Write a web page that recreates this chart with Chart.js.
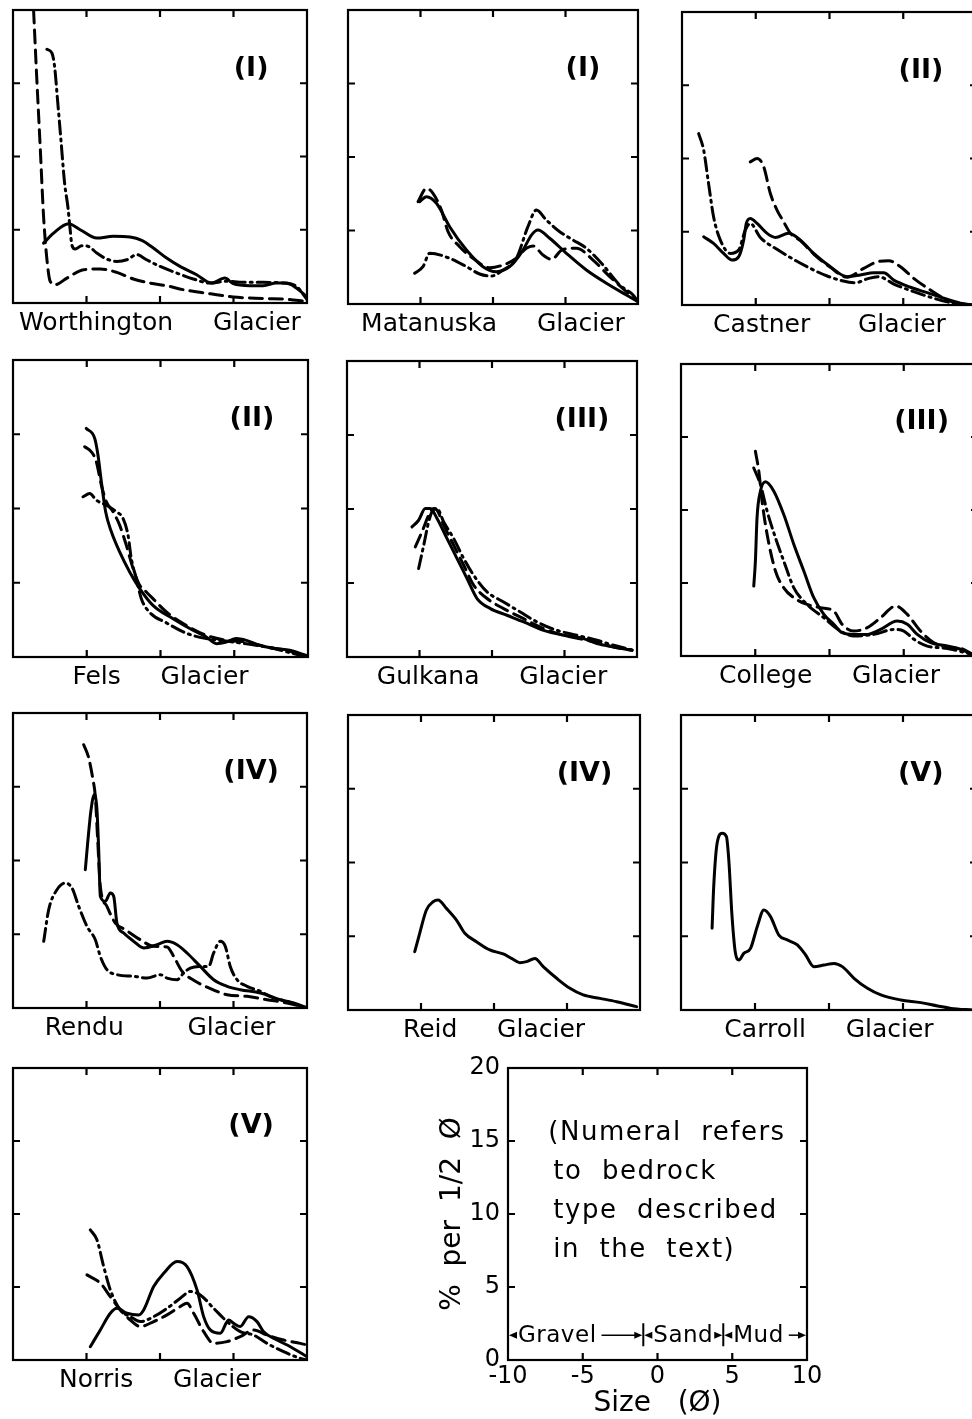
<!DOCTYPE html>
<html>
<head>
<meta charset="utf-8">
<script src="https://cdn.jsdelivr.net/npm/chart.js@4.4.1/dist/chart.umd.min.js"></script>
<style>
  html, body { margin: 0; padding: 0; background: #fff; overflow: hidden; }
  #figura { position: relative; width: 972px; height: 1419px; overflow: hidden; background: #fff; }
  .panel { position: absolute; }
</style>
</head>
<body>
<div id="figura"></div>
<script>
// Curvas: pares [tamano (phi), % por 1/2 phi]
const worthingtonSolid = [[-7.92,4.09],[-7.24,4.77],[-6.22,5.41],[-5.43,5.0],[-4.3,4.43],[-3.17,4.55],[-2.04,4.5],[-1.24,4.27],[-0.45,3.75],[0.45,3.07],[1.36,2.5],[2.49,1.93],[3.51,1.36],[4.41,1.7],[4.98,1.32],[6.11,1.18],[7.01,1.18],[7.92,1.36],[8.6,1.36],[9.28,1.02],[10,0.41]];
const worthingtonDashed = [[-8.6,20],[-8.42,16.1],[-8.14,10.45],[-7.92,5.9],[-7.69,2.95],[-7.47,1.48],[-7.13,1.25],[-6.33,1.7],[-5.2,2.27],[-4.07,2.32],[-2.94,2.09],[-1.81,1.64],[-0.68,1.36],[0.45,1.18],[1.58,0.91],[2.71,0.73],[3.85,0.57],[4.98,0.41],[6.11,0.34],[7.24,0.3],[8.37,0.27],[10,0.11]];
const worthingtonDashDot = [[-7.69,17.32],[-7.35,17.05],[-7.17,16.14],[-6.97,13.86],[-6.74,11.14],[-6.49,8.18],[-6.27,6.59],[-6.11,5.0],[-6.0,3.98],[-5.77,3.68],[-5.32,3.91],[-4.86,3.86],[-4.3,3.41],[-3.62,3.0],[-2.94,2.84],[-2.26,2.95],[-1.58,3.3],[-0.91,2.95],[0,2.5],[1.13,2.05],[2.26,1.64],[3.39,1.36],[4.52,1.48],[5.66,1.41],[7.01,1.41],[8.37,1.36],[9.28,1.14],[10,0.23]];

const matanuskaSolid = [[-5.06,6.96],[-4.59,7.3],[-3.9,6.85],[-2.99,5.26],[-1.83,3.67],[-0.69,2.54],[0.23,2.2],[1.15,2.54],[2.07,3.67],[2.65,4.69],[3.1,5.03],[3.91,4.47],[5.06,3.45],[6.44,2.31],[7.82,1.41],[9.2,0.61],[10,0.16]];
const matanuskaDashed = [[-5.17,6.96],[-4.59,7.87],[-4.14,7.53],[-3.56,6.39],[-3.1,4.92],[-2.3,3.9],[-1.38,3.11],[-0.23,2.47],[0.69,2.65],[1.61,3.11],[2.3,3.79],[2.76,3.95],[3.45,3.33],[4.03,3.04],[4.83,3.72],[5.75,3.79],[6.9,2.99],[8.05,1.86],[9.2,0.84],[10,0.16]];
const matanuskaDashDot = [[-5.4,2.09],[-4.83,2.54],[-4.37,3.45],[-2.99,3.11],[-1.83,2.54],[-0.92,2.04],[-0.11,1.9],[0.69,2.31],[1.61,3.11],[2.41,5.26],[2.99,6.39],[3.68,5.71],[4.6,4.92],[5.52,4.35],[6.44,3.79],[7.59,2.65],[8.74,1.29],[9.66,0.61],[10,0.16]];

const castnerSolid = [[-8.53,4.66],[-7.86,4.2],[-7.18,3.52],[-6.61,3.07],[-6.16,3.29],[-5.82,4.43],[-5.64,5.57],[-5.37,5.91],[-4.91,5.57],[-4.23,4.89],[-3.67,4.61],[-2.77,4.89],[-1.97,4.43],[-1.07,3.52],[0.06,2.61],[1.19,1.93],[2.1,2.05],[3.0,2.2],[3.68,2.2],[4.36,1.7],[5.49,1.21],[6.62,0.84],[7.75,0.46],[8.88,0.12],[9.7,0]];
const castnerDashed = [[-5.37,9.77],[-4.91,10.0],[-4.46,9.43],[-4.01,7.61],[-3.56,6.48],[-3.11,5.68],[-2.65,4.89],[-1.97,4.39],[-1.07,3.48],[0.06,2.57],[1.19,1.89],[2.32,2.5],[3.23,2.95],[4.02,3.02],[4.81,2.61],[5.71,1.82],[6.84,1.02],[7.97,0.34],[8.88,0.07]];
const castnerDashDot = [[-8.87,11.7],[-8.53,10.57],[-8.2,8.3],[-7.86,6.02],[-7.4,4.43],[-6.72,3.52],[-6.16,3.75],[-5.71,5.11],[-5.37,5.57],[-4.69,4.61],[-3.56,3.8],[-2.43,3.11],[-1.3,2.5],[-0.16,1.98],[0.85,1.66],[1.76,1.52],[2.66,1.82],[3.34,1.93],[4.36,1.43],[5.71,0.91],[7.07,0.46],[8.43,0.12],[9.7,0]];

const felsSolid = [[-5.03,15.39],[-4.46,14.72],[-4.24,13.6],[-4.01,11.8],[-3.72,9.78],[-3.33,8.43],[-2.77,7.08],[-2.09,5.73],[-1.41,4.61],[-0.51,3.48],[0.85,2.58],[2.2,1.8],[3.11,1.35],[3.79,0.9],[4.46,1.01],[5.14,1.24],[5.82,1.12],[6.72,0.79],[7.85,0.56],[8.76,0.45],[9.89,0.11]];
const felsDashed = [[-5.14,14.16],[-4.69,13.82],[-4.35,13.15],[-4.01,11.57],[-3.67,10.45],[-3.22,9.78],[-2.77,8.88],[-2.32,7.53],[-1.86,5.96],[-1.41,4.83],[-0.96,4.38],[-0.51,3.93],[0.4,3.03],[1.75,2.13],[3.11,1.46],[4.46,1.12],[5.82,1.01],[7.18,0.67],[8.53,0.45],[9.89,0]];
const felsDashDot = [[-5.25,10.79],[-4.8,11.01],[-4.35,10.56],[-3.67,10.22],[-2.99,9.78],[-2.54,9.33],[-2.2,8.2],[-1.98,6.63],[-1.64,5.28],[-1.3,3.93],[-0.73,3.0],[0.4,2.3],[1.75,1.6],[3.11,1.24],[4.92,1.01],[7.18,0.67],[9.89,0]];

const gulkanaSolid = [[-5.52,8.79],[-5.06,9.24],[-4.6,10.03],[-4.25,10.03],[-3.79,9.36],[-3.1,8.0],[-2.41,6.65],[-1.72,5.3],[-1.03,3.95],[-0.11,3.27],[1.03,2.82],[2.18,2.37],[3.56,1.8],[4.94,1.47],[6.32,1.24],[7.24,0.9],[8.39,0.68],[9.66,0.45]];
const gulkanaDashed = [[-5.29,7.44],[-4.83,8.46],[-4.25,9.81],[-4.02,10.03],[-3.79,9.92],[-3.33,8.91],[-2.64,7.55],[-1.95,6.2],[-1.26,4.85],[-0.34,3.95],[0.8,3.27],[2.18,2.59],[3.56,1.92],[4.94,1.47],[6.55,1.13],[8.39,0.68],[9.66,0.45]];
const gulkanaDashDot = [[-5.06,5.98],[-4.71,7.55],[-4.37,9.13],[-4.14,9.81],[-3.79,10.03],[-3.33,9.13],[-2.64,8.0],[-1.95,6.65],[-1.26,5.52],[-0.34,4.4],[0.8,3.72],[1.95,3.04],[3.1,2.37],[4.48,1.8],[5.86,1.47],[7.24,1.13],[8.39,0.79],[9.77,0.45]];

const collegeSolid = [[-5.1,4.79],[-4.99,6.5],[-4.88,9.46],[-4.65,11.29],[-4.31,11.93],[-3.75,11.29],[-3.08,9.69],[-2.4,7.64],[-1.73,5.82],[-1.06,3.99],[-0.38,2.85],[0.29,2.17],[0.85,1.6],[1.64,1.48],[2.54,1.48],[3.44,1.82],[4.56,2.39],[5.24,2.17],[5.91,1.48],[6.81,0.91],[7.93,0.68],[8.83,0.46],[9.62,0.11]];
const collegeDashed = [[-4.99,14.03],[-4.76,12.66],[-4.54,10.6],[-4.2,8.32],[-3.64,5.82],[-3.08,4.67],[-2.4,3.99],[-1.51,3.53],[-0.61,3.31],[0.29,3.08],[0.85,2.17],[1.64,1.71],[2.54,1.94],[3.44,2.62],[4.45,3.42],[5.24,2.85],[6.13,1.71],[7.03,0.91],[8.16,0.57],[8.83,0.52],[9.62,0.11]];
const collegeDashDot = [[-5.1,12.88],[-4.65,11.74],[-4.2,9.92],[-3.64,8.1],[-3.08,6.5],[-2.4,4.67],[-1.51,3.53],[-0.38,2.62],[0.74,1.71],[1.64,1.37],[2.99,1.48],[4.34,1.82],[5.01,1.71],[5.69,1.14],[6.58,0.68],[7.93,0.52],[9.62,0.11]];

const renduSolid = [[-5.08,9.38],[-4.92,11.19],[-4.69,13.45],[-4.47,14.46],[-4.29,13.45],[-4.17,10.73],[-4.06,7.57],[-3.72,7.23],[-3.38,7.8],[-3.15,7.57],[-2.93,5.76],[-2.47,5.08],[-1.79,4.52],[-1.11,4.07],[-0.2,4.29],[0.48,4.52],[1.16,4.29],[1.84,3.73],[2.74,2.82],[3.65,1.92],[4.56,1.47],[5.46,1.24],[6.83,1.02],[8.19,0.56],[9.09,0.34],[10,0]];
const renduDashed = [[-5.19,17.85],[-4.85,16.95],[-4.56,15.48],[-4.4,14.35],[-4.24,11.41],[-4.06,8.25],[-3.61,6.89],[-3.04,5.76],[-2.36,5.31],[-1.34,4.63],[-0.43,4.18],[0.48,4.14],[0.93,3.5],[1.5,2.49],[2.29,1.88],[3.2,1.42],[4.56,0.9],[5.92,0.79],[7.28,0.56],[8.64,0.34],[10,0]];
const renduDashDot = [[-7.91,4.52],[-7.57,6.67],[-7.01,8.02],[-6.44,8.47],[-5.99,8.14],[-5.53,6.89],[-4.97,5.54],[-4.4,4.63],[-4.06,3.5],[-3.61,2.6],[-2.93,2.26],[-1.79,2.15],[-0.88,2.03],[0.02,2.26],[0.48,2.03],[1.16,1.92],[1.61,2.37],[2.06,2.71],[2.74,2.82],[3.31,2.82],[3.65,3.73],[4.1,4.52],[4.44,4.18],[4.78,2.82],[5.24,1.92],[5.92,1.47],[6.83,1.13],[7.73,0.68],[8.64,0.45],[10,0]];

const reidSolid = [[-5.43,3.95],[-5.09,5.2],[-4.63,6.78],[-4.17,7.34],[-3.83,7.46],[-3.26,6.89],[-2.57,6.1],[-2.0,5.2],[-1.2,4.63],[-0.29,4.07],[0.63,3.8],[1.2,3.5],[1.77,3.21],[2.23,3.28],[2.8,3.5],[3.37,2.94],[4.29,2.15],[5.2,1.47],[6.11,1.02],[7.26,0.79],[8.4,0.56],[9.77,0.23]];

const carrollSolid = [[-7.9,5.54],[-7.79,8.36],[-7.56,11.3],[-7.22,11.98],[-6.93,11.75],[-6.77,10.17],[-6.55,6.33],[-6.32,3.84],[-6.09,3.39],[-5.76,3.84],[-5.3,4.18],[-4.85,5.65],[-4.4,6.78],[-3.95,6.33],[-3.39,5.08],[-2.82,4.75],[-2.14,4.41],[-1.58,3.73],[-1.02,2.94],[-0.34,3.05],[0.34,3.16],[0.9,2.94],[1.69,2.15],[2.6,1.47],[3.5,1.02],[4.85,0.68],[6.21,0.5],[7.34,0.27],[8.24,0.11],[9.73,0]];

const norrisSolid = [[-4.74,0.91],[-4.06,2.06],[-3.38,3.2],[-2.93,3.54],[-2.24,3.2],[-1.45,3.09],[-1.11,3.43],[-0.43,5.03],[0.25,5.94],[1.16,6.74],[1.84,6.4],[2.52,4.8],[2.97,2.97],[3.42,2.06],[4.1,1.83],[4.67,2.74],[5.01,2.51],[5.46,2.29],[6.03,2.97],[6.6,2.63],[7.05,1.94],[7.96,1.37],[8.87,0.91],[10,0.23]];
const norrisDashed = [[-4.97,5.83],[-4.06,5.26],[-3.38,4.34],[-2.7,3.43],[-2.02,2.74],[-1.34,2.29],[-0.43,2.63],[0.48,3.09],[1.38,3.66],[1.84,3.89],[2.29,3.2],[2.97,1.94],[3.65,1.14],[4.56,1.26],[5.46,1.6],[6.37,2.06],[7.28,1.71],[8.41,1.37],[9.55,1.14],[10,1.03]];
const norrisDashDot = [[-4.74,8.91],[-4.29,8.23],[-3.83,6.4],[-3.38,4.8],[-2.7,3.43],[-2.02,2.97],[-1.34,2.63],[-0.43,2.97],[0.48,3.54],[1.38,4.23],[2.06,4.69],[2.74,4.46],[3.65,3.54],[4.56,2.63],[5.46,1.94],[6.37,1.71],[7.28,1.14],[8.41,0.57],[9.55,0.11],[10,0]];

const glaciares = ['Worthington', 'Matanuska', 'Castner', 'Fels', 'Gulkana', 'College', 'Rendu', 'Reid', 'Carroll', 'Norris'];
const tiposRoca = ['(I)', '(I)', '(II)', '(II)', '(III)', '(III)', '(IV)', '(IV)', '(V)', '(V)'];

// Ejes comunes
const marcasX = [-5, 0, 5];
const marcasY = [5, 10, 15];
const valoresTickX = [-10, -5, 0, 5, 10];
const valoresTickY = [0, 5, 10, 15, 20];

// Panel de escala
const notaLineas = ['(Numeral  refers', 'to  bedrock', 'type  described', 'in  the  text)'];
const clasesTamano = ['Gravel', 'Sand', 'Mud'];
const limitesClases = [-10, -0.95, 4.4, 10];

const FUENTE = '"DejaVu Sans", "Liberation Sans", sans-serif';
Chart.defaults.color = '#000';
Chart.defaults.font.family = FUENTE;

const estilos = [
  { borderDash: [] },
  { borderDash: [13, 7] },
  { borderDash: [13, 5, 2, 5] }
];

// Marco con marcas hacia adentro y el numero de roca
const marcoPlugin = {
  id: 'marco',
  afterDraw(chart, args, opts) {
    const { ctx, chartArea: a, scales: { x, y } } = chart;
    ctx.save();
    ctx.strokeStyle = '#000';
    ctx.lineWidth = 2.2;
    ctx.setLineDash([]);
    ctx.strokeRect(a.left, a.top, a.right - a.left, a.bottom - a.top);
    ctx.beginPath();
    marcasX.forEach(v => {
      const px = x.getPixelForValue(v);
      ctx.moveTo(px, a.top); ctx.lineTo(px, a.top + 7);
      ctx.moveTo(px, a.bottom); ctx.lineTo(px, a.bottom - 7);
    });
    marcasY.forEach(v => {
      const py = y.getPixelForValue(v);
      ctx.moveTo(a.left, py); ctx.lineTo(a.left + 7, py);
      ctx.moveTo(a.right, py); ctx.lineTo(a.right - 7, py);
    });
    ctx.stroke();
    if (opts.roca) {
      ctx.font = 'bold 27px ' + FUENTE;
      ctx.fillStyle = '#000';
      ctx.textAlign = 'center';
      ctx.textBaseline = 'middle';
      ctx.fillText(opts.roca, x.getPixelForValue(6.2), y.getPixelForValue(16));
    }
    ctx.restore();
  }
};

// Nota y clases de tamano en el panel de escala
const notaPlugin = {
  id: 'nota',
  afterDraw(chart) {
    const { ctx, scales: { x, y } } = chart;
    ctx.save();
    ctx.fillStyle = '#000';
    ctx.strokeStyle = '#000';
    ctx.font = '26px ' + FUENTE;
    ctx.letterSpacing = '1.5px';
    ctx.textAlign = 'left';
    ctx.textBaseline = 'middle';
    const x0 = x.getPixelForValue(-7.3);
    const y0 = y.getPixelForValue(15.55);
    notaLineas.forEach((t, i) => ctx.fillText(t, i === 0 ? x0 : x0 + 5, y0 + i * 39));

    const yf = y.getPixelForValue(1.7);
    ctx.font = '23px ' + FUENTE;
    ctx.letterSpacing = '0.5px';
    ctx.lineWidth = 1.5;
    const punta = (px, dir) => {
      ctx.beginPath();
      ctx.moveTo(px, yf);
      ctx.lineTo(px - dir * 8, yf - 3.5);
      ctx.lineTo(px - dir * 8, yf + 3.5);
      ctx.closePath();
      ctx.fill();
    };
    clasesTamano.forEach((nombre, i) => {
      const p0 = x.getPixelForValue(limitesClases[i]) + 1;
      const p1 = x.getPixelForValue(limitesClases[i + 1]) - 1;
      punta(p0, -1);
      ctx.fillText(nombre, p0 + 9, yf + 1);
      const fin = p0 + 9 + ctx.measureText(nombre).width + 5;
      if (p1 - fin > 12) {
        ctx.beginPath();
        ctx.moveTo(fin, yf);
        ctx.lineTo(p1 - 4, yf);
        ctx.stroke();
      }
      punta(p1, 1);
    });
    ctx.lineWidth = 2;
    ctx.beginPath();
    limitesClases.slice(1, -1).forEach(v => {
      const px = x.getPixelForValue(v);
      ctx.moveTo(px, yf - 12);
      ctx.lineTo(px, yf + 11);
    });
    ctx.stroke();
    ctx.restore();
  }
};

const paneles = [
  { series: [worthingtonSolid, worthingtonDashed, worthingtonDashDot], caja: { l: 13, t: 10, w: 294, h: 293 }, hueco: 5 },
  { series: [matanuskaSolid, matanuskaDashed, matanuskaDashDot], caja: { l: 348, t: 10, w: 290, h: 294 }, hueco: 5 },
  { series: [castnerSolid, castnerDashed, castnerDashDot], caja: { l: 682, t: 12, w: 295, h: 293 }, hueco: 6 },
  { series: [felsSolid, felsDashed, felsDashDot], caja: { l: 13, t: 360, w: 295, h: 297 }, hueco: 5 },
  { series: [gulkanaSolid, gulkanaDashed, gulkanaDashDot], caja: { l: 347, t: 361, w: 290, h: 296 }, hueco: 5 },
  { series: [collegeSolid, collegeDashed, collegeDashDot], caja: { l: 681, t: 364, w: 297, h: 292 }, hueco: 5 },
  { series: [renduSolid, renduDashed, renduDashDot], caja: { l: 13, t: 713, w: 294, h: 295 }, hueco: 8 },
  { series: [reidSolid], caja: { l: 348, t: 715, w: 292, h: 295 }, hueco: 5 },
  { series: [carrollSolid], caja: { l: 681, t: 715, w: 296, h: 295 }, hueco: 5 },
  { series: [norrisSolid, norrisDashed, norrisDashDot], caja: { l: 13, t: 1068, w: 294, h: 292 }, hueco: 5 }
];

function crearCanvas(left, top, width, height) {
  const div = document.createElement('div');
  div.className = 'panel';
  div.style.left = left + 'px';
  div.style.top = top + 'px';
  const canvas = document.createElement('canvas');
  canvas.width = width;
  canvas.height = height;
  canvas.style.width = width + 'px';
  canvas.style.height = height + 'px';
  div.appendChild(canvas);
  document.getElementById('figura').appendChild(div);
  return canvas;
}

function crearPanel(p, i) {
  const c = p.caja;
  const canvas = crearCanvas(c.l - 20, c.t - 10, c.w + 40, c.h + 55);
  const datasets = p.series.map((serie, k) => ({
    data: serie.map(([x, y]) => ({ x, y })),
    borderColor: '#000',
    borderWidth: 3,
    borderDash: estilos[k].borderDash,
    borderCapStyle: 'round',
    pointRadius: 0,
    fill: false,
    cubicInterpolationMode: 'monotone'
  }));
  return new Chart(canvas.getContext('2d'), {
    type: 'line',
    data: { datasets },
    plugins: [marcoPlugin],
    options: {
      responsive: false,
      animation: false,
      events: [],
      layout: { padding: { left: 20, right: 20, top: 10, bottom: 10 } },
      scales: {
        x: { type: 'linear', min: -10, max: 10, display: false },
        y: { type: 'linear', min: 0, max: 20, display: false }
      },
      plugins: {
        legend: { display: false },
        tooltip: { enabled: false },
        title: {
          display: true,
          position: 'bottom',
          text: glaciares[i] + ' '.repeat(p.hueco) + 'Glacier',
          font: { size: 25, weight: 'normal', family: FUENTE, lineHeight: 1.2 },
          color: '#000',
          padding: { top: 5, bottom: 0 }
        },
        marco: { roca: tiposRoca[i] }
      }
    }
  });
}

function crearEscala() {
  const canvas = crearCanvas(420, 1040, 440, 379);
  return new Chart(canvas.getContext('2d'), {
    type: 'line',
    data: { datasets: [] },
    plugins: [marcoPlugin, notaPlugin],
    options: {
      responsive: false,
      animation: false,
      events: [],
      layout: { padding: { left: 0, right: 53, top: 28, bottom: 0 } },
      scales: {
        x: {
          type: 'linear', min: -10, max: 10,
          afterBuildTicks: s => { s.ticks = valoresTickX.map(v => ({ value: v })); },
          afterFit: s => { s.height = 59; },
          grid: { display: false, drawTicks: false },
          border: { display: false },
          ticks: { font: { size: 24 }, color: '#000', padding: 2, maxRotation: 0, autoSkip: false },
          title: { display: true, text: 'Size   (Ø)', font: { size: 28 }, color: '#000', padding: { top: 0, bottom: -2 } }
        },
        y: {
          type: 'linear', min: 0, max: 20,
          afterBuildTicks: s => { s.ticks = valoresTickY.map(v => ({ value: v })); },
          afterFit: s => { s.width = 88; },
          grid: { display: false, drawTicks: false },
          border: { display: false },
          ticks: { font: { size: 24 }, color: '#000', padding: 8 },
          title: { display: true, text: '%  per  1/2  Ø', font: { size: 28 }, color: '#000', padding: { top: 16, bottom: 0 } }
        }
      },
      plugins: {
        legend: { display: false },
        tooltip: { enabled: false },
        marco: { roca: null }
      }
    }
  });
}

const graficos = paneles.map(crearPanel);
graficos.push(crearEscala());
</script>
</body>
</html>
